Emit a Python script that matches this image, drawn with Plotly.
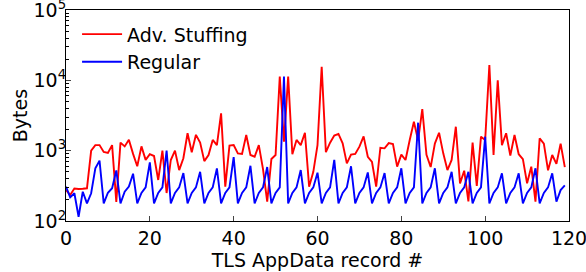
import plotly.graph_objects as go

record = list(range(120))

adv_stuffing = [
    275, 235, 290, 285, 288, 292, 1000, 1200, 1200, 960,
    930, 1200, 187, 1300, 1150, 1430, 900, 600, 1150, 740,
    890, 840, 383, 1000, 250, 737, 1000, 530, 780, 1770,
    950, 1680, 1300, 710, 868, 1420, 1200, 3400, 308, 1180,
    1200, 917, 900, 1670, 868, 820, 1200, 545, 188, 760,
    868, 11300, 1340, 11300, 890, 1420, 1200, 1800, 308, 500,
    1200, 15600, 950, 1300, 1640, 1730, 1270, 660, 880, 900,
    1140, 1600, 820, 690, 308, 1100, 1080, 1280, 1240, 592,
    880, 737, 1420, 2580, 1400, 3900, 870, 585, 1260, 1800,
    917, 531, 737, 2190, 343, 519, 190, 1300, 315, 1580,
    1420, 16500, 868, 10000, 1200, 1770, 850, 1670, 890, 760,
    343, 592, 188, 1500, 1260, 525, 868, 650, 1260, 585,
]

regular = [
    308, 217, 248, 115, 261, 178, 248, 563, 720, 178,
    252, 292, 525, 178, 261, 308, 470, 178, 250, 300,
    680, 178, 250, 300, 1000, 178, 250, 300, 480, 178,
    250, 300, 500, 178, 250, 300, 560, 178, 250, 300,
    810, 178, 250, 300, 610, 178, 250, 300, 585, 178,
    250, 300, 11300, 178, 250, 300, 531, 178, 250, 300,
    487, 178, 250, 300, 740, 178, 250, 300, 600, 178,
    250, 300, 490, 178, 250, 300, 480, 178, 250, 300,
    562, 178, 250, 300, 2500, 178, 250, 300, 562, 178,
    250, 300, 500, 178, 250, 300, 500, 178, 250, 300,
    1580, 178, 250, 300, 476, 178, 250, 300, 476, 178,
    250, 300, 562, 178, 250, 300, 476, 188, 275, 320,
]

x_ticks = [0, 20, 40, 60, 80, 100, 120]
y_ticks = [100, 1000, 10000, 100000]
y_ticktext = ["10<sup>2</sup>", "10<sup>3</sup>", "10<sup>4</sup>", "10<sup>5</sup>"]
minor_vals = [m * 10 ** e for e in (2, 3, 4) for m in range(2, 10)]

FONT = "DejaVu Sans"
FS = 19

fig = go.Figure()
fig.add_trace(go.Scatter(x=record, y=adv_stuffing, mode="lines", name="Adv. Stuffing",
                         line=dict(color="#ff0000", width=1.9)))
fig.add_trace(go.Scatter(x=record, y=regular, mode="lines", name="Regular",
                         line=dict(color="#0000ff", width=1.9)))

fig.update_layout(
    width=586, height=272,
    margin=dict(l=66, r=17, t=10, b=51, autoexpand=False),
    paper_bgcolor="white", plot_bgcolor="white",
    font=dict(family=FONT, size=FS, color="black"),
    showlegend=True,
    legend=dict(x=0.022, y=0.975, xanchor="left", yanchor="top",
                bgcolor="rgba(0,0,0,0)", borderwidth=0,
                font=dict(family=FONT, size=FS), tracegroupgap=0,
                itemwidth=40),
    xaxis=dict(range=[0, 120], tickvals=x_ticks, ticks="inside", ticklen=5,
               showgrid=False, zeroline=False, showline=True, linecolor="black",
               linewidth=1.2, mirror=True, automargin=False,
               ticklabeloverflow="allow",
               title=dict(text="TLS AppData record #", font=dict(size=FS), standoff=2),
               tickfont=dict(size=FS)),
    yaxis=dict(type="log", range=[2, 5.0002], tickvals=y_ticks, ticktext=y_ticktext,
               ticks="inside", ticklen=5, showgrid=False, zeroline=False,
               showline=True, linecolor="black", linewidth=1.2, mirror=True,
               automargin=False, ticklabeloverflow="allow", ticklabelstandoff=-5,
               minor=dict(tickvals=minor_vals, ticks="inside", ticklen=3,
                          tickcolor="black", showgrid=False),
               title=dict(text="Bytes", font=dict(size=FS), standoff=0),
               tickfont=dict(size=FS)),
)

fig.write_html("out.html", config={"displayModeBar": False},
               post_script="document.body.style.margin='0px';")
